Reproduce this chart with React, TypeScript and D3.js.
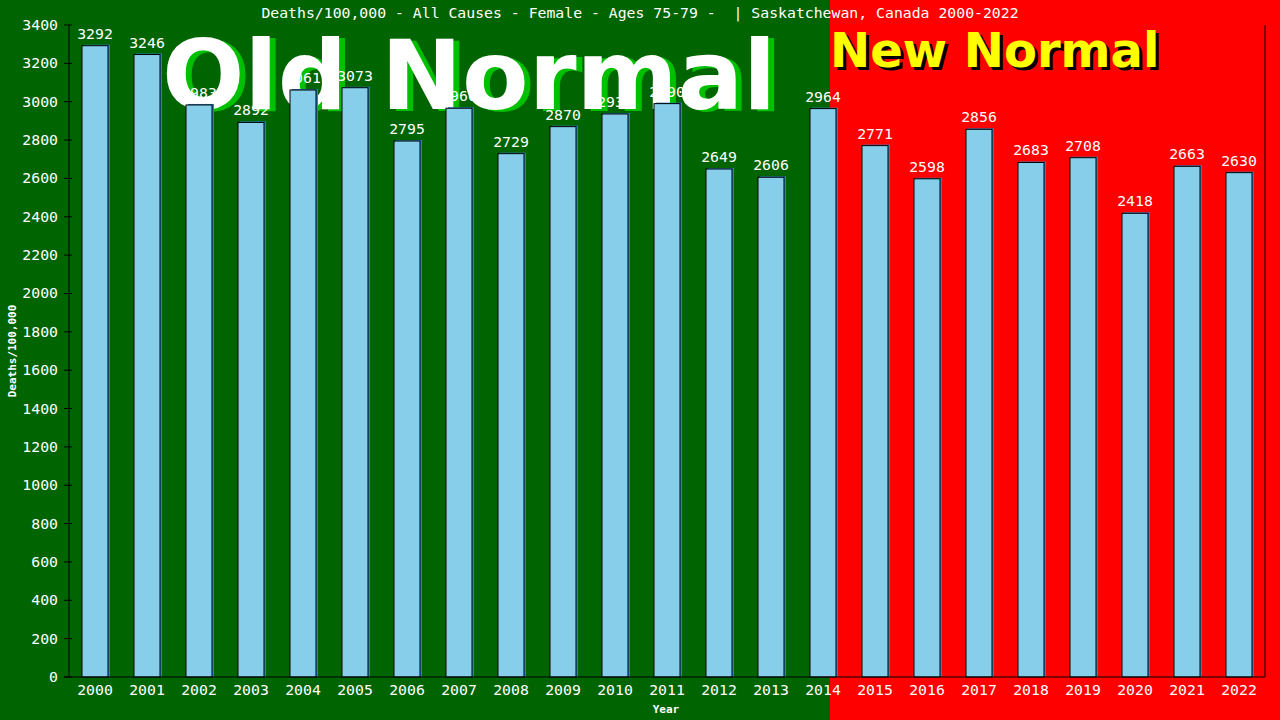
import React from 'react';
import * as d3 from 'd3';

const years = ['2000', '2001', '2002', '2003', '2004', '2005', '2006', '2007', '2008', '2009', '2010', '2011',
  '2012', '2013', '2014', '2015', '2016', '2017', '2018', '2019', '2020', '2021', '2022'];
const deaths = [3292, 3246, 2983, 2892, 3061, 3073, 2795, 2966, 2729, 2870, 2936, 2990,
  2649, 2606, 2964, 2771, 2598, 2856, 2683, 2708, 2418, 2663, 2630];
const yTicks = d3.range(0, 3401, 200);
const title = 'Deaths/100,000 - All Causes - Female - Ages 75-79 -  | Saskatchewan, Canada 2000-2022';

const W = 1280;
const H = 720;
const margin = { top: 25, right: 15, bottom: 43, left: 69 };
const splitX = 830;
const mono = '"DejaVu Sans Mono", monospace';
const sans = '"DejaVu Sans", sans-serif';

const App: React.FC = () => {
  const x = d3.scaleBand<string>()
    .domain(years)
    .range([margin.left, W - margin.right]);
  const y = d3.scaleLinear()
    .domain([0, 3400])
    .range([H - margin.bottom, margin.top]);

  const barW = x.bandwidth() / 2;
  const bottom = y(0);

  return (
    <svg width={W} height={H} style={{ display: 'block', position: 'absolute', left: 0, top: 0 }}>
      <rect x={0} y={0} width={splitX} height={H} fill="#006400" />
      <rect x={splitX} y={0} width={W - splitX} height={H} fill="#ff0000" />

      <text x={640} y={18} textAnchor="middle" fill="#fff" fontFamily={mono} fontSize={14.8}
        style={{ whiteSpace: 'pre' }}>{title}</text>

      {/* big captions, drawn under the bars */}
      <g fontFamily={sans} fontWeight="bold">
        <text x={168} y={111} fontSize={97} fill="#00c000">Old Normal</text>
        <text x={162} y={109} fontSize={97} fill="#ffffff">Old Normal</text>
        <text x={833} y={70} fontSize={48} fill="#000000">New Normal</text>
        <text x={830} y={67} fontSize={48} fill="#ffff00">New Normal</text>
      </g>

      {/* bars */}
      {years.map((yr, i) => {
        const cx = (x(yr) ?? 0) + x.bandwidth() / 2;
        const top = y(deaths[i]);
        return (
          <g key={yr}>
            <rect x={cx - barW / 2 + 2} y={top - 1} width={barW} height={bottom - top + 1} fill="#2f7fc0" />
            <rect x={cx - barW / 2} y={top} width={barW} height={bottom - top} fill="#87ceeb" stroke="#000" strokeWidth={1} />
            <text x={cx} y={top - 7} textAnchor="middle" fill="#fff" fontFamily={mono} fontSize={14.8}>{deaths[i]}</text>
          </g>
        );
      })}

      {/* axes */}
      <line x1={margin.left} x2={margin.left} y1={margin.top} y2={bottom} stroke="#000" />
      <line x1={W - margin.right} x2={W - margin.right} y1={margin.top} y2={bottom} stroke="#000" />
      <line x1={margin.left - 5} x2={W - margin.right} y1={bottom} y2={bottom} stroke="#000" />
      {yTicks.map(t => (
        <g key={t}>
          <line x1={margin.left - 5} x2={margin.left + 3} y1={y(t)} y2={y(t)} stroke="#000" />
          <text x={margin.left - 11} y={y(t) + 5} textAnchor="end" fill="#fff" fontFamily={mono} fontSize={14.8}>{t}</text>
        </g>
      ))}
      {years.map(yr => (
        <text key={yr} x={(x(yr) ?? 0) + x.bandwidth() / 2} y={bottom + 18} textAnchor="middle" fill="#fff"
          fontFamily={mono} fontSize={14.8}>{yr}</text>
      ))}

      <text x={666} y={713} textAnchor="middle" fill="#fff" fontFamily={mono} fontWeight="bold" fontSize={11}>Year</text>
      <text transform={`translate(16,${(margin.top + bottom) / 2}) rotate(-90)`} textAnchor="middle" fill="#fff"
        fontFamily={mono} fontWeight="bold" fontSize={11}>Deaths/100,000</text>
    </svg>
  );
};

export default App;
